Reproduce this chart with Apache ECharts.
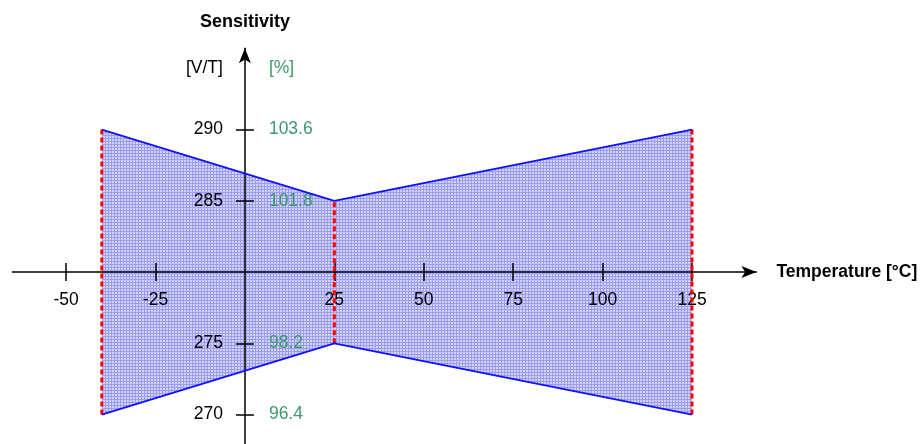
<!DOCTYPE html>
<html>
<head>
<meta charset="utf-8">
<script src="https://cdn.jsdelivr.net/npm/echarts@6/dist/echarts.min.js"></script>
<style>
  html, body { margin: 0; padding: 0; background: #fff; }
  #main { width: 921px; height: 444px; }
</style>
</head>
<body>
<div id="main"></div>
<script>
// temperature corners of the tolerance band and its limits in V/T
const temps = [-40, 25, 125];
const upperVT = [290, 285, 290];
const lowerVT = [270, 275, 270];

const xTicks = [-50, -25, 25, 50, 75, 100, 125];
const yTicks = [290, 285, 275, 270];
const pctLabels = ['103.6', '101.8', '98.2', '96.4'];
const unitRow = 294.3; // where the [V/T] / [%] captions sit

const FONT = "'Liberation Sans', Arial, sans-serif";
const GREEN = '#3b9a6b';

// plot frame: axes cross at T = 0 and 280 V/T
const X_MIN = -65, X_MAX = 143;
const Y_MIN = 267, Y_MAX = 295.7;
const G_LEFT = 12.4, G_WIDTH = 744, G_TOP = 48.3, G_HEIGHT = 409;
const yAxisOffset = -(G_WIDTH * (0 - X_MIN) / (X_MAX - X_MIN));
const xAxisOffset = -(G_HEIGHT * (280 - Y_MIN) / (Y_MAX - Y_MIN));

function hatch() {
  const c = document.createElement('canvas');
  c.width = 3;
  c.height = 3;
  const g = c.getContext('2d');
  g.fillStyle = '#d2d2fa';
  g.fillRect(0, 0, 3, 3);
  g.fillStyle = '#9c9cee';
  g.fillRect(0, 0, 3, 1);
  g.fillRect(0, 0, 1, 3);
  return c;
}
const pattern = { image: hatch(), repeat: 'repeat' };

// one quad per temperature segment
const bandData = [];
for (let i = 0; i < temps.length - 1; i++) {
  bandData.push([temps[i], temps[i + 1], upperVT[i], upperVT[i + 1], lowerVT[i], lowerVT[i + 1]]);
}

const axisLineStyle = { color: '#000', width: 1.5 };

const chart = echarts.init(document.getElementById('main'));
chart.setOption({
  animation: false,
  backgroundColor: '#fff',
  grid: { left: G_LEFT, width: G_WIDTH, top: G_TOP, height: G_HEIGHT, containLabel: false, outerBoundsMode: 'none' },
  xAxis: [
    {
      type: 'value', position: 'bottom', offset: xAxisOffset, min: X_MIN, max: X_MAX, z: 5,
      name: 'Temperature [°C]', nameLocation: 'end', nameGap: 20,
      nameTextStyle: { fontFamily: FONT, fontWeight: 'bold', fontSize: 17.5, color: '#000' },
      axisLine: { show: true, onZero: false, lineStyle: axisLineStyle,
        symbol: ['none', 'arrow'], symbolSize: [9, 15] },
      axisTick: { show: true, length: 9, customValues: xTicks, lineStyle: axisLineStyle },
      axisLabel: { customValues: xTicks, margin: 19, fontFamily: FONT, fontSize: 17.5, color: '#000' },
      splitLine: { show: false }
    },
    {
      type: 'value', position: 'bottom', offset: xAxisOffset, min: X_MIN, max: X_MAX, z: 5,
      axisLine: { show: false, onZero: false },
      axisTick: { show: true, inside: true, length: 9, customValues: xTicks, lineStyle: axisLineStyle },
      axisLabel: { show: false },
      splitLine: { show: false }
    }
  ],
  yAxis: [
    {
      type: 'value', position: 'left', offset: yAxisOffset, min: Y_MIN, max: Y_MAX, z: 5,
      name: 'Sensitivity', nameLocation: 'end', nameGap: 17,
      nameTextStyle: { fontFamily: FONT, fontWeight: 'bold', fontSize: 18, color: '#000' },
      axisLine: { show: true, onZero: false, lineStyle: axisLineStyle,
        symbol: ['none', 'arrow'], symbolSize: [9, 15] },
      axisTick: { show: true, length: 9, customValues: yTicks, lineStyle: axisLineStyle },
      axisLabel: {
        customValues: [unitRow].concat(yTicks),
        formatter: v => v > 292 ? '[V/T]' : String(Math.round(v)),
        margin: 22, fontFamily: FONT, fontSize: 17.5, color: '#000'
      },
      splitLine: { show: false }
    },
    {
      type: 'value', position: 'left', offset: yAxisOffset, min: Y_MIN, max: Y_MAX, z: 5,
      axisLine: { show: false, onZero: false },
      axisTick: { show: true, inside: true, length: 9, customValues: yTicks, lineStyle: axisLineStyle },
      axisLabel: {
        inside: true,
        customValues: [unitRow].concat(yTicks),
        formatter: v => {
          if (v > 292) return '[%]';
          const i = yTicks.indexOf(Math.round(v));
          return i >= 0 ? pctLabels[i] : '';
        },
        margin: 24, fontFamily: FONT, fontSize: 17.5, color: GREEN
      },
      splitLine: { show: false }
    }
  ],
  series: [
    {
      type: 'custom',
      z: 2,
      silent: true,
      data: bandData,
      encode: { x: [0, 1], y: [2, 3, 4, 5] },
      renderItem(params, api) {
        const p = [
          api.coord([api.value(0), api.value(2)]),
          api.coord([api.value(1), api.value(3)]),
          api.coord([api.value(1), api.value(5)]),
          api.coord([api.value(0), api.value(4)])
        ];
        return { type: 'polygon', shape: { points: p }, style: { fill: pattern } };
      }
    }
  ].concat(temps.map((t, i) => ({
    type: 'line',
    z: 6,
    symbol: 'none',
    silent: true,
    data: [[t, lowerVT[i]], [t, upperVT[i]]],
    lineStyle: { color: '#ff0000', width: 3, type: [5, 3] }
  }))).concat([upperVT, lowerVT].map(arr => ({
    type: 'line',
    z: 7,
    symbol: 'none',
    silent: true,
    data: temps.map((t, i) => [t, arr[i]]),
    lineStyle: { color: '#1010ff', width: 1.8 }
  })))
});
</script>
</body>
</html>
